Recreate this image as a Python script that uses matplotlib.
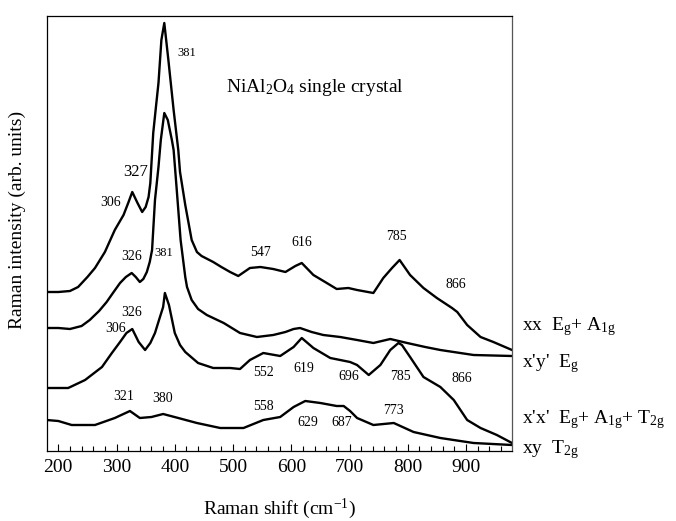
import matplotlib
matplotlib.use("Agg")
import matplotlib.pyplot as plt
from matplotlib.ticker import MultipleLocator

plt.rcParams['font.family'] = ['Liberation Serif', 'DejaVu Serif']
plt.rcParams['mathtext.fontset'] = 'custom'
plt.rcParams['mathtext.rm'] = 'Liberation Serif'
plt.rcParams['mathtext.it'] = 'Liberation Serif:italic'
plt.rcParams['mathtext.bf'] = 'Liberation Serif:bold'

# xx  Eg + A1g (top, offset)
xx_shift = [180, 200, 220, 234, 250, 263, 280, 297, 312, 320, 327, 336, 344, 350, 355, 358, 363, 368, 372, 377, 382,
            389, 398, 406, 409, 418, 429, 438, 446, 466, 480, 495, 509, 529, 547, 569, 590, 607, 618, 638, 661,
            678, 698, 713, 741, 758, 773, 786, 804, 827, 850, 876, 885, 902, 925, 947, 979]
xx_int = [159, 159, 160, 164, 174, 183, 199, 221, 236, 248, 259, 248, 239, 244, 254, 268, 318, 346, 368, 411, 428,
          391, 341, 301, 279, 246, 211, 199, 195, 189, 184, 179, 175, 183, 184, 182, 179, 185, 188, 176, 168,
          162, 163, 161, 158, 173, 183, 191, 176, 163, 153, 143, 139, 126, 114, 109, 101]

# x'y'  Eg
xpyp_shift = [180, 200, 220, 240, 254, 270, 283, 295, 306, 316, 326, 333, 340, 346, 352, 357, 361, 366, 372, 376,
              382, 388, 395, 398, 403, 410, 418, 421, 429, 440, 455, 484, 512, 541, 569, 590, 604, 615, 635, 655,
              684, 713, 741, 770, 799, 830, 856, 913, 979]
xpyp_int = [123, 123, 122, 125, 131, 140, 149, 159, 168, 174, 178, 174, 169, 172, 179, 189, 201, 251, 284, 311,
            338, 331, 311, 301, 264, 211, 174, 164, 151, 142, 136, 128, 118, 114, 116, 119, 122, 123, 119, 116,
            114, 111, 108, 112, 108, 104, 101, 96, 95]

# x'x'  Eg + A1g + T2g
xpxp_shift = [180, 200, 217, 246, 275, 292, 306, 317, 327, 338, 349, 358, 366, 374, 380, 383, 390, 400, 409, 418,
              430, 440, 466, 495, 512, 529, 552, 581, 604, 618, 638, 667, 684, 701, 713, 733, 753, 770, 784, 790,
              804, 827, 856, 879, 902, 925, 953, 979]
xpxp_int = [63, 63, 63, 71, 84, 98, 109, 118, 122, 109, 101, 108, 118, 133, 144, 158, 146, 118, 106, 99,
            93, 88, 83, 83, 82, 91, 98, 95, 104, 113, 103, 93, 91, 89, 86, 76, 86, 101, 108, 106,
            94, 74, 64, 51, 31, 23, 16, 8]

# xy  T2g
xy_shift = [180, 200, 223, 263, 297, 323, 340, 360, 380, 406, 438, 478, 518, 552, 581, 604, 624, 650, 678, 690,
            701, 713, 741, 776, 810, 856, 913, 979]
xy_int = [31, 30, 26, 26, 33, 40, 33, 34, 37, 33, 28, 23, 23, 31, 34, 44, 50, 48, 45, 45,
          40, 33, 26, 28, 19, 13, 8, 6]

# peak labels: (text, shift, intensity, fontsize)
peak_text = ["381", "327", "306", "326", "381", "547", "616", "785", "866",
             "326", "306", "552", "619", "696", "785", "866",
             "321", "380", "558", "629", "687", "773"]
peak_x = [421, 332, 290, 326, 381.6, 547, 618, 781, 883,
          326, 297.5, 553, 622, 698, 787, 893,
          313, 379, 552, 628, 687, 775]
peak_y = [398, 279, 248, 195, 198, 199, 208, 215, 166,
          139, 122, 78, 83, 74, 74, 72,
          55, 53, 45, 28, 28, 41]
peak_size = [9, 12, 10, 10, 9, 10, 10, 10, 10,
             10, 10, 10, 10, 10, 10, 10,
             10, 10, 10, 10, 10, 10]

series_labels = [r"xx  $\mathrm{E_g}$+ $\mathrm{A_{1g}}$",
                 r"x'y'  $\mathrm{E_g}$",
                 r"x'x'  $\mathrm{E_g}$+ $\mathrm{A_{1g}}$+ $\mathrm{T_{2g}}$",
                 r"xy  $\mathrm{T_{2g}}$"]
series_label_y = [327, 364, 420, 450]  # pixel rows

W, H = 676, 521
fig = plt.figure(figsize=(W / 100, H / 100), dpi=100)
ax = fig.add_axes([47 / W, 1 - 451 / H, (512 - 47) / W, (451 - 15.7) / H])

for xs, ys in [(xx_shift, xx_int), (xpyp_shift, xpyp_int), (xpxp_shift, xpxp_int), (xy_shift, xy_int)]:
    ax.plot(xs, ys, color='black', lw=1.7, solid_joinstyle='round')

ax.set_xlim(180.6, 979)
ax.set_ylim(0, 435.3)
ax.set_yticks([])
ax.xaxis.set_major_locator(MultipleLocator(100))
ax.xaxis.set_minor_locator(MultipleLocator(20))
ax.tick_params(axis='x', which='major', direction='in', length=5, width=0.8, labelsize=14, pad=6)
ax.tick_params(axis='x', which='minor', direction='in', length=3.5, width=0.8)
for s in ax.spines.values():
    s.set_linewidth(0.9)
ax.spines['right'].set_color('#555555')

ax.set_xlabel(r"Raman shift (cm$^{\mathrm{-1}}$)", fontsize=14, labelpad=15)
ax.set_ylabel("Raman intensity (arb. units)", fontsize=14)
ax.yaxis.set_label_coords(-0.045, 0.53)

for t, x, y, s in zip(peak_text, peak_x, peak_y, peak_size):
    ax.text(x, y, t, fontsize=s, ha='center', va='center')

ax.text(488, 364, r"NiAl$_\mathrm{2}$O$_\mathrm{4}$ single crystal", fontsize=14, ha='left', va='center')

for lab, yp in zip(series_labels, series_label_y):
    fig.text(521.7 / W, 1 - yp / H, lab, fontsize=14, ha='left', va='center')

fig.savefig("out.png", dpi=100)
